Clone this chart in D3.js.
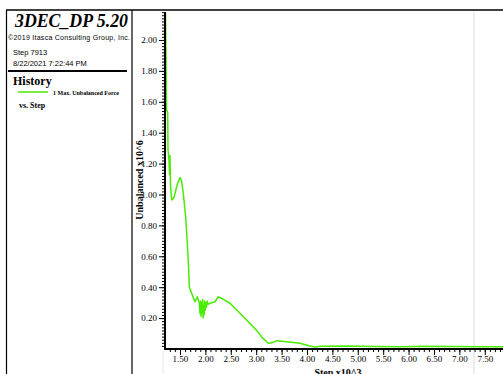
<!DOCTYPE html>
<html>
<head>
<meta charset="utf-8">
<script src="https://cdn.jsdelivr.net/npm/d3@7"></script>
<style>
  body { margin: 0; background: #fff; }
  svg { display: block; }
  .serif { font-family: "Liberation Serif", "Times New Roman", serif; }
  .sans { font-family: "Liberation Sans", Arial, sans-serif; }
</style>
</head>
<body>
<div id="vis"></div>
<script>
var width = 503;
var height = 374;

// history: step (x10^3) vs max unbalanced force (x10^6)
var steps = [1.209, 1.225, 1.235, 1.258, 1.264, 1.284, 1.294, 1.303, 1.313, 1.337, 1.382, 1.441, 1.50, 1.53,
  1.565, 1.612, 1.644, 1.672, 1.683, 1.731, 1.796, 1.841, 1.880,
  1.895, 1.905, 1.915, 1.925, 1.935, 1.945, 1.955, 1.965, 1.975, 1.985, 1.995, 2.005, 2.02, 2.035, 2.05,
  2.091, 2.19, 2.254, 2.321, 2.484, 2.681, 2.878, 3.036, 3.115, 3.238, 3.311, 3.404, 3.60, 3.862, 4.06, 4.158,
  4.256, 4.8, 5.3, 5.9, 6.3, 6.9, 7.4, 7.913];
var force = [2.40, 1.87, 1.55, 1.53, 1.29, 1.22, 1.13, 1.25, 1.06, 0.964, 0.98, 1.06, 1.11, 1.09,
  1.008, 0.856, 0.684, 0.511, 0.403, 0.36, 0.306, 0.338, 0.296,
  0.23, 0.31, 0.21, 0.30, 0.24, 0.32, 0.20, 0.28, 0.22, 0.31, 0.25, 0.30, 0.27, 0.31, 0.29,
  0.296, 0.306, 0.338, 0.328, 0.296, 0.231, 0.165, 0.11, 0.075, 0.037, 0.04, 0.054, 0.047, 0.037, 0.02, 0.013,
  0.018, 0.02, 0.016, 0.015, 0.018, 0.016, 0.015, 0.015];

var yMajor = [0.20, 0.40, 0.60, 0.80, 1.00, 1.20, 1.40, 1.60, 1.80, 2.00];
var xMajor = [1.50, 2.00, 2.50, 3.00, 3.50, 4.00, 4.50, 5.00, 5.50, 6.00, 6.50, 7.00, 7.50];

var plot = { left: 165, right: 506, top: 12, bottom: 349 };
var green = '#48ec00';

var x = d3.scaleLinear().domain([1.205, 7.918]).range([plot.left, plot.right]);
var y = d3.scaleLinear().domain([0, 2.181]).range([plot.bottom, plot.top]);

var svg = d3.select('#vis').append('svg')
  .attr('width', width)
  .attr('height', height);

// frame
svg.append('line').attr('x1', 6).attr('x2', width).attr('y1', 10).attr('y2', 10)
  .attr('stroke', '#000').attr('stroke-width', 1.5);
svg.append('line').attr('x1', 6.5).attr('x2', 6.5).attr('y1', 10).attr('y2', height)
  .attr('stroke', '#000').attr('stroke-width', 1.2);
svg.append('line').attr('x1', 132).attr('x2', 132).attr('y1', 10).attr('y2', height)
  .attr('stroke', '#000').attr('stroke-width', 1.2);
svg.append('line').attr('x1', 474).attr('x2', 474).attr('y1', 12).attr('y2', height)
  .attr('stroke', '#e6e6e6').attr('stroke-width', 1.5);
svg.append('line').attr('x1', 163).attr('x2', 163).attr('y1', 351).attr('y2', height)
  .attr('stroke', '#e6e6e6').attr('stroke-width', 1);

// left legend panel
var info = svg.append('g');
info.append('text').attr('class', 'serif').attr('x', 15).attr('y', 27)
  .style('font-size', '19px').style('font-weight', 'bold').style('font-style', 'italic')
  .attr('textLength', 113).attr('lengthAdjust', 'spacingAndGlyphs')
  .text('3DEC_DP 5.20');
info.append('text').attr('class', 'sans').attr('x', 8).attr('y', 40)
  .style('font-size', '7px').attr('textLength', 122)
  .text('©2019 Itasca Consulting Group, Inc.');
info.append('text').attr('class', 'sans').attr('x', 13).attr('y', 55)
  .style('font-size', '7.5px').text('Step 7913');
info.append('text').attr('class', 'sans').attr('x', 13).attr('y', 66)
  .style('font-size', '7.5px').text('8/22/2021 7:22:44 PM');
info.append('line').attr('x1', 8).attr('x2', 127).attr('y1', 71).attr('y2', 71)
  .attr('stroke', '#000').attr('stroke-width', 2);
info.append('text').attr('class', 'serif').attr('x', 13).attr('y', 85)
  .style('font-size', '12px').style('font-weight', 'bold').text('History');
info.append('line').attr('x1', 18).attr('x2', 48).attr('y1', 92).attr('y2', 92)
  .attr('stroke', green).attr('stroke-width', 1.5);
info.append('text').attr('class', 'serif').attr('x', 53).attr('y', 95)
  .style('font-size', '6px').style('font-weight', 'bold').text('1 Max. Unbalanced Force');
info.append('text').attr('class', 'serif').attr('x', 19).attr('y', 108)
  .style('font-size', '8px').style('font-weight', 'bold').text('vs. Step');

// curve
svg.append('clipPath').attr('id', 'clip').append('rect')
  .attr('x', plot.left).attr('y', plot.top)
  .attr('width', width - plot.left).attr('height', plot.bottom - plot.top);

var line = d3.line()
  .x(function (d, i) { return x(steps[i]); })
  .y(function (d) { return y(d); });

svg.append('path')
  .datum(force)
  .attr('clip-path', 'url(#clip)')
  .attr('fill', 'none')
  .attr('stroke', green)
  .attr('stroke-width', 1.5)
  .attr('stroke-linejoin', 'round')
  .attr('d', line);

// y axis
var yMinor = d3.range(0.02, 2.181, 0.02);
svg.append('g')
  .attr('transform', 'translate(' + plot.left + ',0)')
  .call(d3.axisLeft(y).tickValues(yMinor).tickSize(3).tickFormat(''))
  .call(function (g) { g.select('.domain').remove(); });

var yAx = svg.append('g')
  .attr('class', 'serif')
  .attr('transform', 'translate(' + plot.left + ',0)')
  .call(d3.axisLeft(y).tickValues(yMajor).tickSize(6).tickPadding(2).tickFormat(d3.format('.2f')));
yAx.select('.domain').remove();
yAx.selectAll('text').style('font-size', '9px').attr('fill', '#000');

svg.append('line').attr('x1', plot.left).attr('x2', plot.left)
  .attr('y1', plot.top).attr('y2', plot.bottom)
  .attr('stroke', '#000').attr('stroke-width', 2);

// x axis
var xMinor = d3.range(1.3, 7.91, 0.1);
svg.append('g')
  .attr('transform', 'translate(0,' + plot.bottom + ')')
  .call(d3.axisBottom(x).tickValues(xMinor).tickSize(3).tickFormat(''))
  .call(function (g) { g.select('.domain').remove(); });

var xAx = svg.append('g')
  .attr('class', 'serif')
  .attr('transform', 'translate(0,' + plot.bottom + ')')
  .call(d3.axisBottom(x).tickValues(xMajor).tickSize(6).tickPadding(1).tickFormat(d3.format('.2f')));
xAx.select('.domain').remove();
xAx.selectAll('text').style('font-size', '9px').attr('fill', '#000');

svg.append('line').attr('x1', plot.left - 1).attr('x2', width)
  .attr('y1', plot.bottom).attr('y2', plot.bottom)
  .attr('stroke', '#000').attr('stroke-width', 2);

// axis titles
svg.append('text').attr('class', 'serif')
  .attr('transform', 'translate(143,' + 180 + ') rotate(-90)')
  .attr('text-anchor', 'middle')
  .style('font-size', '10px').style('font-weight', 'bold')
  .text('Unbalanced x10^6');

svg.append('text').attr('class', 'serif')
  .attr('x', 338).attr('y', 376)
  .attr('text-anchor', 'middle')
  .style('font-size', '10px').style('font-weight', 'bold')
  .text('Step x10^3');
</script>
</body>
</html>
